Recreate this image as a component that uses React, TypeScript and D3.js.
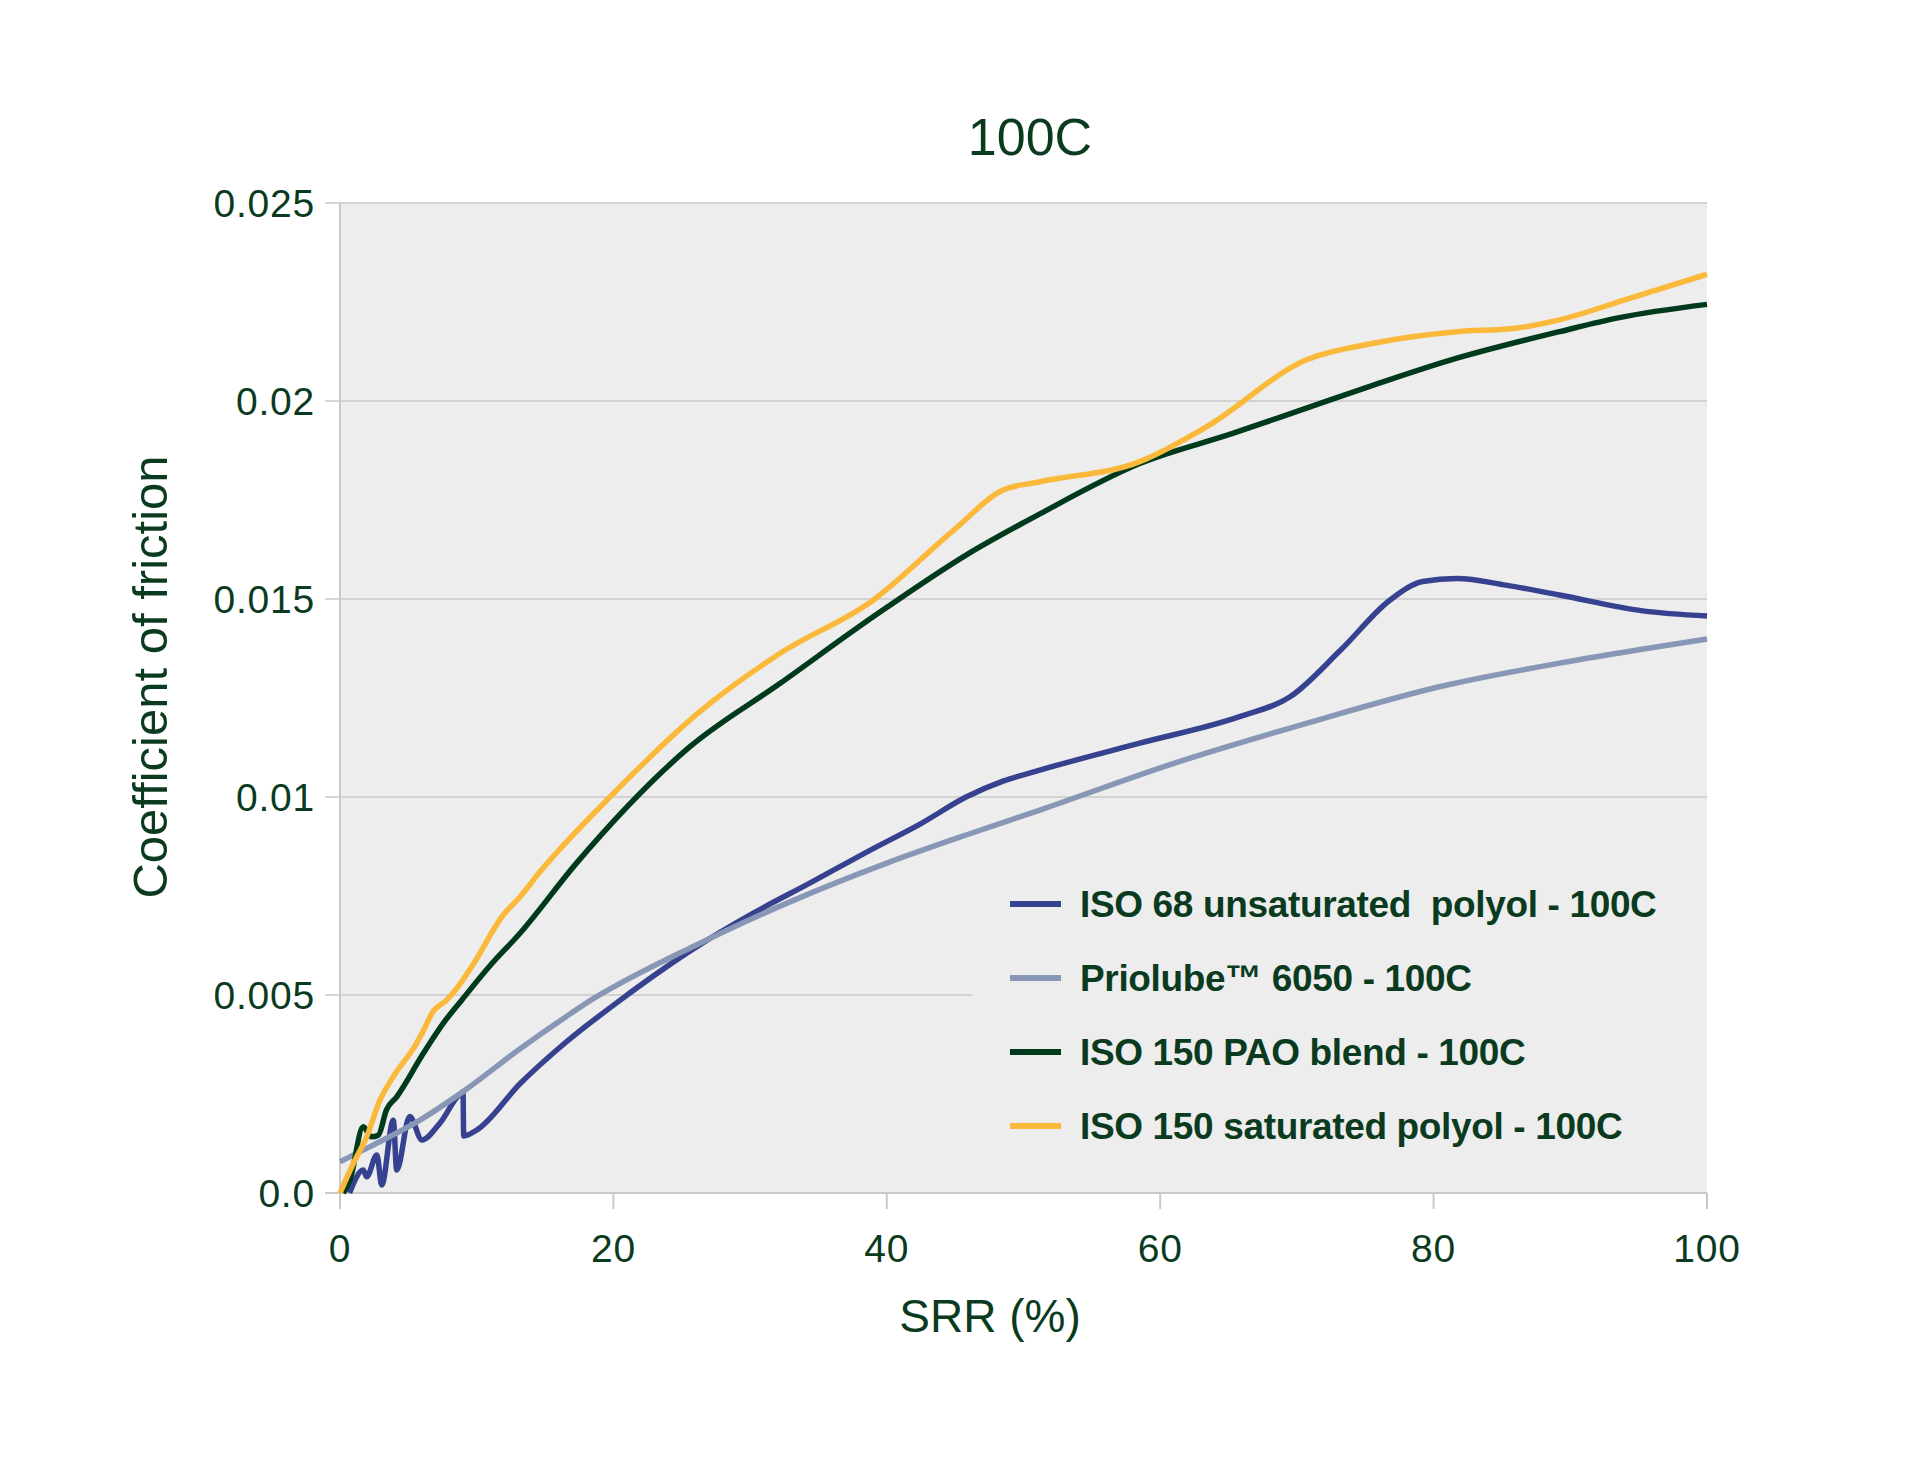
import React from "react";
import * as d3 from "d3";

// ---------- data ----------
const chartTitle = "100C";
const xAxisTitle = "SRR (%)";
const yAxisTitle = "Coefficient of friction";

const xTicks = [0, 20, 40, 60, 80, 100];
const xTickLabels = ["0", "20", "40", "60", "80", "100"];
const yTicks = [0, 0.005, 0.01, 0.015, 0.02, 0.025];
const yTickLabels = ["0.0", "0.005", "0.01", "0.015", "0.02", "0.025"];

const seriesNames = [
  "ISO 68 unsaturated  polyol - 100C",
  "Priolube\u2122 6050 - 100C",
  "ISO 150 PAO blend - 100C",
  "ISO 150 saturated polyol - 100C",
];
const seriesColors = ["#36428f", "#8797b5", "#003a1c", "#fbb93b"];

// ISO 68 unsaturated polyol (SRR %, COF x 1e-3)
const iso68X = [0.7, 1.7, 1.95, 2.7, 3.05, 3.9, 4.15, 5.1, 6.0, 7.3, 9.0, 9.05, 10.0, 13.2, 16.5, 20.5, 26.1, 30.2, 34.5, 38.8, 42.5, 45.8, 48.5, 51.2, 58.5, 65.8, 69.5, 73.2, 76.8, 79.2, 81.7, 85.3, 89.2, 95.3, 100];
const iso68Y = [0, 0.58, 0.41, 0.96, 0.2, 1.84, 0.58, 1.93, 1.34, 1.76, 2.52, 1.44, 1.59, 2.77, 3.8, 4.87, 6.22, 7.06, 7.85, 8.66, 9.33, 10.0, 10.4, 10.68, 11.36, 12.03, 12.53, 13.71, 14.97, 15.44, 15.52, 15.35, 15.1, 14.7, 14.57];

// Priolube 6050
const prioX = [0, 2.2, 5.85, 9.0, 13.2, 16.4, 18.5, 20, 25.8, 32.7, 40, 45.8, 51.2, 61, 70.7, 80.5, 89.2, 95, 100];
const prioY = [0.79, 1.17, 1.84, 2.56, 3.65, 4.42, 4.9, 5.2, 6.22, 7.32, 8.33, 9.04, 9.67, 10.85, 11.86, 12.79, 13.38, 13.72, 13.99];

// ISO 150 PAO blend
const paoX = [0.24, 0.73, 1.7, 2.3, 2.8, 3.4, 4.15, 6.1, 7.56, 8.9, 11.0, 13.17, 17.3, 25.6, 32.2, 39.0, 45.8, 51.2, 58.5, 65.3, 70.7, 75.6, 81.7, 89.2, 93.5, 100];
const paoY = [0, 0.33, 1.67, 1.42, 1.46, 2.1, 2.43, 3.53, 4.29, 4.87, 5.75, 6.56, 8.33, 11.27, 12.87, 14.55, 16.11, 17.15, 18.42, 19.18, 19.82, 20.4, 21.08, 21.75, 22.1, 22.44];

// ISO 150 saturated polyol
const satX = [0, 0.98, 1.95, 2.93, 3.9, 5.6, 6.1, 6.8, 7.8, 8.5, 9.7, 11.9, 13.17, 14.63, 19.75, 26.3, 32.2, 39.0, 44.9, 48.5, 51.2, 58.5, 63.4, 70.7, 75.6, 81.7, 85.8, 89.2, 94.4, 100];
const satY = [0, 0.75, 1.42, 2.35, 2.94, 3.78, 4.1, 4.58, 4.87, 5.15, 5.75, 7.0, 7.48, 8.11, 10.0, 12.15, 13.63, 14.97, 16.74, 17.75, 17.96, 18.47, 19.35, 21.04, 21.46, 21.75, 21.83, 22.05, 22.6, 23.2];

const seriesX = [iso68X, prioX, paoX, satX];
const seriesY = [iso68Y, prioY, paoY, satY];

// ---------- layout ----------
const W = 1922;
const H = 1483;
const plot = { left: 340, right: 1707, top: 203, bottom: 1193 };
const textColor = "#0b3b1f";
const axisColor = "#c9c9c9";
const font = "'Liberation Sans', Arial, Helvetica, sans-serif";

export default function App() {
  const x = d3.scaleLinear().domain([0, 100]).range([plot.left, plot.right]);
  const y = d3.scaleLinear().domain([0, 0.025]).range([plot.bottom, plot.top]);

  const line = d3
    .line<[number, number]>()
    .x((d) => x(d[0]))
    .y((d) => y(d[1] / 1000))
    .curve(d3.curveMonotoneX);

  const paths = seriesX.map((xs, i) =>
    line(xs.map((v, j) => [v, seriesY[i][j]] as [number, number]))
  );

  const legendX = 1010;
  const legendY0 = 904;
  const legendStep = 74;

  return (
    <svg
      width={W}
      height={H}
      viewBox={`0 0 ${W} ${H}`}
      style={{ position: "absolute", left: 0, top: 0, background: "#ffffff" }}
    >
      <rect x={0} y={0} width={W} height={H} fill="#ffffff" />
      {/* plot background */}
      <rect
        x={plot.left}
        y={plot.top}
        width={plot.right - plot.left}
        height={plot.bottom - plot.top}
        fill="#ededed"
      />
      {/* gridlines + y ticks */}
      {yTicks.map((t, i) => (
        <line
          key={"g" + i}
          x1={plot.left - 15}
          x2={plot.right}
          y1={y(t)}
          y2={y(t)}
          stroke={axisColor}
          strokeWidth={1.6}
        />
      ))}
      {/* legend box covering gridlines */}
      <rect x={972} y={850} width={plot.right - 972} height={320} fill="#ededed" />
      {/* axis lines */}
      <line x1={plot.left} x2={plot.left} y1={plot.top} y2={plot.bottom + 16} stroke={axisColor} strokeWidth={2} />
      <line x1={plot.left - 15} x2={plot.right} y1={plot.bottom} y2={plot.bottom} stroke={axisColor} strokeWidth={2} />
      {xTicks.map((t, i) => (
        <line
          key={"xt" + i}
          x1={x(t)}
          x2={x(t)}
          y1={plot.bottom}
          y2={plot.bottom + 16}
          stroke={axisColor}
          strokeWidth={2}
        />
      ))}
      {/* tick labels */}
      {yTicks.map((t, i) => (
        <text
          key={"yl" + i}
          x={315}
          y={y(t) + 13.5}
          textAnchor="end"
          fontFamily={font}
          fontSize={39}
          letterSpacing={0.8}
          fill={textColor}
        >
          {yTickLabels[i]}
        </text>
      ))}
      {xTicks.map((t, i) => (
        <text
          key={"xl" + i}
          x={x(t)}
          y={1262}
          textAnchor="middle"
          fontFamily={font}
          fontSize={39}
          letterSpacing={0.8}
          fill={textColor}
        >
          {xTickLabels[i]}
        </text>
      ))}
      {/* series */}
      {paths.map((d, i) => (
        <path
          key={"s" + i}
          d={d || ""}
          fill="none"
          stroke={seriesColors[i]}
          strokeWidth={5.5}
          strokeLinejoin="round"
          strokeLinecap="butt"
        />
      ))}
      {/* legend */}
      {seriesNames.map((name, i) => (
        <g key={"lg" + i}>
          <line
            x1={legendX}
            x2={legendX + 51}
            y1={legendY0 + i * legendStep}
            y2={legendY0 + i * legendStep}
            stroke={seriesColors[i]}
            strokeWidth={6}
          />
          <text
            x={1080}
            y={legendY0 + i * legendStep + 13}
            fontFamily={font}
            fontWeight="bold"
            fontSize={37}
            letterSpacing={-0.35}
            fill={textColor}
            style={{ whiteSpace: "pre" }}
          >
            {name}
          </text>
        </g>
      ))}
      {/* titles */}
      <text
        x={1030}
        y={155}
        textAnchor="middle"
        fontFamily={font}
        fontSize={52}
        fill={textColor}
      >
        {chartTitle}
      </text>
      <text
        x={990}
        y={1332}
        textAnchor="middle"
        fontFamily={font}
        fontSize={46}
        fill={textColor}
      >
        {xAxisTitle}
      </text>
      <text
        transform={`translate(167, 677) rotate(-90)`}
        textAnchor="middle"
        fontFamily={font}
        fontSize={49}
        fill={textColor}
      >
        {yAxisTitle}
      </text>
    </svg>
  );
}
